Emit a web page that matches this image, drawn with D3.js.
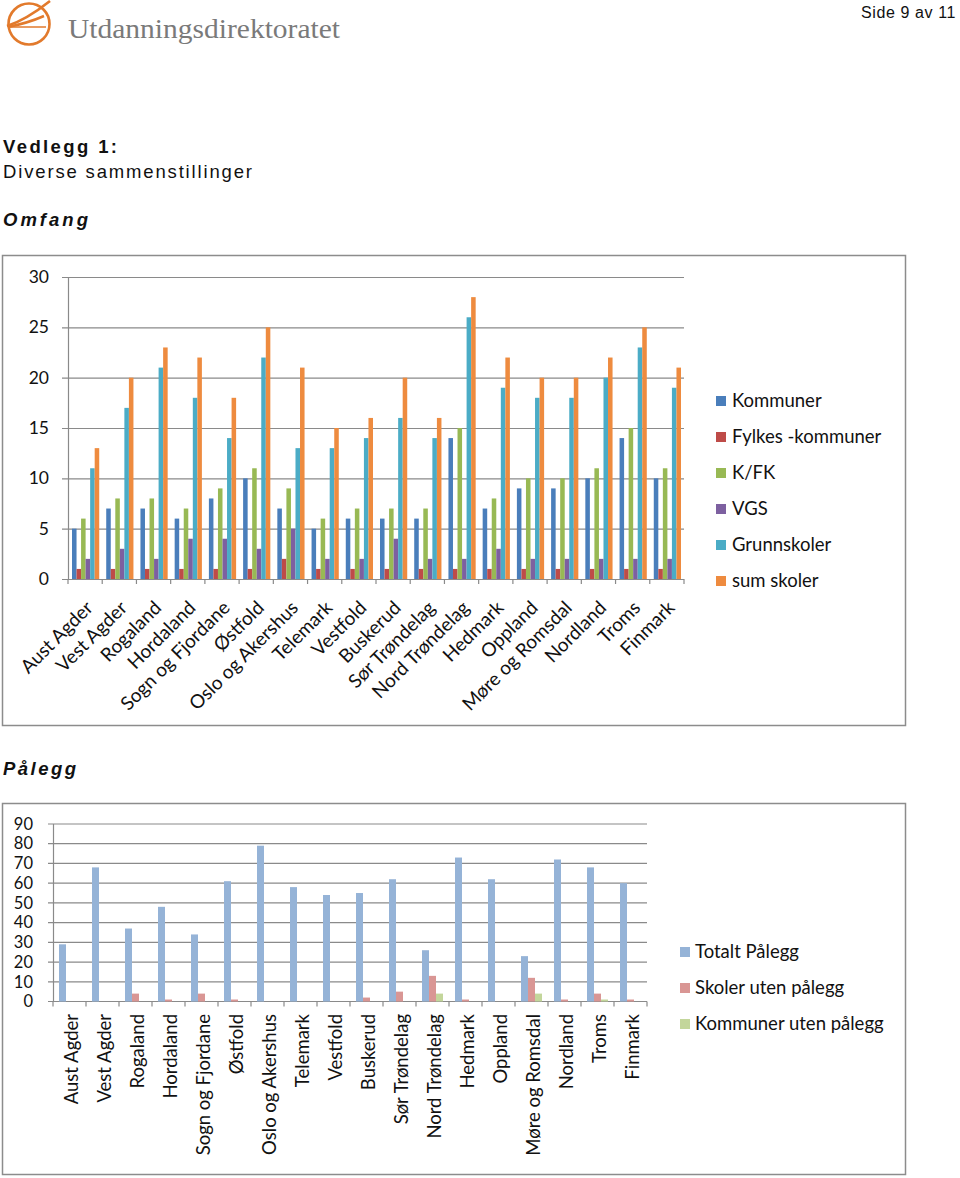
<!DOCTYPE html>
<html><head><meta charset="utf-8">
<script src="https://cdnjs.cloudflare.com/ajax/libs/d3/7.8.5/d3.min.js"></script>
<style>body{margin:0;background:#fff}svg{display:block}</style>
</head><body><svg id="c" width="960" height="1178"></svg>
<script>
// ---------- data ----------
const categories = ["Aust Agder","Vest Agder","Rogaland","Hordaland","Sogn og Fjordane","Østfold","Oslo og Akershus","Telemark","Vestfold","Buskerud","Sør Trøndelag","Nord Trøndelag","Hedmark","Oppland","Møre og Romsdal","Nordland","Troms","Finmark"];
const seriesTop = ["Kommuner","Fylkes -kommuner","K/FK","VGS","Grunnskoler","sum skoler"];
const kommuner      = [5,7,7,6,8,10,7,5,6,6,6,14,7,9,9,10,14,10];
const fylkeskommuner= [1,1,1,1,1,1,2,1,1,1,1,1,1,1,1,1,1,1];
const kfk           = [6,8,8,7,9,11,9,6,7,7,7,15,8,10,10,11,15,11];
const vgs           = [2,3,2,4,4,3,5,2,2,4,2,2,3,2,2,2,2,2];
const grunnskoler   = [11,17,21,18,14,22,13,13,14,16,14,26,19,18,18,20,23,19];
const sumSkoler     = [13,20,23,22,18,25,21,15,16,20,16,28,22,20,20,22,25,21];
const topTicks = [0,5,10,15,20,25,30];

const seriesBottom = ["Totalt Pålegg","Skoler uten pålegg","Kommuner uten pålegg"];
const totaltPalegg       = [29,68,37,48,34,61,79,58,54,55,62,26,73,62,23,72,68,60];
const skolerUtenPalegg   = [0,0,4,1,4,1,0,0,0,2,5,13,1,0,12,1,4,1];
const kommunerUtenPalegg = [0,0,0,0,0,0,0,0,0,0,0,4,0,0,4,0,1,0];
const bottomTicks = [0,10,20,30,40,50,60,70,80,90];

const topColors = ["#4A7EBB","#BE4B48","#98B954","#7D60A0","#4BACC6","#EE8B3F"];
const bottomColors = ["#95B3D7","#D99694","#C3D69B"];

const svg = d3.select("#c");
const LATO = "Lato, 'Open Sans', sans-serif";
const ARIAL = "'Liberation Sans', Arial, sans-serif";
const grid = "#8a8a8a";

// ---------- header ----------
const logo = svg.append("g").attr("fill","none").attr("stroke","#E27A2C").attr("stroke-width",2.6);
logo.append("circle").attr("cx",29).attr("cy",24).attr("r",20.5);
logo.append("path").attr("d","M7,26 Q26,20 50,1");
logo.append("path").attr("d","M8,27 Q28,23 44,16");
logo.append("path").attr("d","M8,27 L46,27").attr("stroke-width",1.6);
svg.append("text").attr("x",68).attr("y",38).attr("font-family","'Liberation Serif','DejaVu Serif',serif")
  .attr("font-size",27).attr("fill","#7a7a7a").attr("textLength",272).attr("lengthAdjust","spacingAndGlyphs")
  .text("Utdanningsdirektoratet");
svg.append("text").attr("x",956).attr("y",18).attr("text-anchor","end").attr("font-family",ARIAL)
  .attr("font-size",16).attr("letter-spacing",0.6).attr("fill","#111").text("Side 9 av 11");

svg.append("text").attr("x",3).attr("y",153).attr("font-family",ARIAL).attr("font-weight","bold")
  .attr("font-size",18.5).attr("fill","#111").attr("textLength",114).attr("lengthAdjust","spacing").text("Vedlegg 1:");
svg.append("text").attr("x",3).attr("y",178).attr("font-family",ARIAL)
  .attr("font-size",18.5).attr("fill","#111").attr("textLength",249).attr("lengthAdjust","spacing").text("Diverse sammenstillinger");
svg.append("text").attr("x",3).attr("y",226).attr("font-family",ARIAL).attr("font-weight","bold").attr("font-style","italic")
  .attr("font-size",18.5).attr("fill","#111").attr("textLength",85).attr("lengthAdjust","spacing").text("Omfang");
svg.append("text").attr("x",3).attr("y",775).attr("font-family",ARIAL).attr("font-weight","bold").attr("font-style","italic")
  .attr("font-size",18.5).attr("fill","#111").attr("textLength",73).attr("lengthAdjust","spacing").text("Pålegg");

// ---------- top chart ----------
svg.append("rect").attr("x",2.5).attr("y",255.5).attr("width",903).attr("height",470)
  .attr("fill","none").attr("stroke","#8c8c8c").attr("stroke-width",1.5);

const topData = [kommuner,fylkeskommuner,kfk,vgs,grunnskoler,sumSkoler];
const tx = d3.scaleBand().domain(categories).range([68,684]).padding(0);
const tx1 = d3.scaleBand().domain(seriesTop).range([4,tx.bandwidth()-3]).padding(0);
const ty = d3.scaleLinear().domain([0,30]).range([579,277]);

const gTop = svg.append("g");
gTop.selectAll("line.g").data(topTicks).join("line")
  .attr("x1",62).attr("x2",684).attr("y1",d=>ty(d)+0.5).attr("y2",d=>ty(d)+0.5)
  .attr("stroke",grid).attr("stroke-width",1.2);
gTop.append("line").attr("x1",68.5).attr("x2",68.5).attr("y1",ty(30)).attr("y2",ty(0)).attr("stroke",grid).attr("stroke-width",1.2);
gTop.selectAll("line.t").data(d3.range(categories.length+1)).join("line")
  .attr("x1",i=>68+i*tx.step()).attr("x2",i=>68+i*tx.step()).attr("y1",ty(0)).attr("y2",ty(0)+5)
  .attr("stroke",grid).attr("stroke-width",1.2);
gTop.selectAll("text.y").data(topTicks).join("text")
  .attr("x",49).attr("y",d=>ty(d)).attr("dy","0.35em").attr("text-anchor","end")
  .attr("font-family",LATO).attr("font-size",17.5).attr("fill","#111").text(d=>d);
seriesTop.forEach((s,si)=>{
  gTop.selectAll(null).data(topData[si]).join("rect")
    .attr("x",(d,i)=>tx(categories[i])+tx1(s)).attr("width",tx1.bandwidth())
    .attr("y",d=>ty(d)).attr("height",d=>ty(0)-ty(d)).attr("fill",topColors[si]);
});
gTop.selectAll("text.x").data(categories).join("text")
  .attr("transform",d=>`translate(${tx(d)+tx.bandwidth()/2+9},${609}) rotate(-45)`)
  .attr("text-anchor","end").attr("font-family",LATO).attr("font-size",19).attr("fill","#111").text(d=>d);
seriesTop.forEach((s,i)=>{
  const y = 401 + i*36;
  svg.append("rect").attr("x",716).attr("y",y-5).attr("width",10).attr("height",10).attr("fill",topColors[i]);
  svg.append("text").attr("x",732).attr("y",y).attr("dy","0.35em").attr("font-family",LATO)
    .attr("font-size",18.5).attr("fill","#111").text(s);
});

// ---------- bottom chart ----------
svg.append("rect").attr("x",2.5).attr("y",803.5).attr("width",903).attr("height",371)
  .attr("fill","none").attr("stroke","#8c8c8c").attr("stroke-width",1.5);
const botData = [totaltPalegg,skolerUtenPalegg,kommunerUtenPalegg];
const bx = d3.scaleBand().domain(categories).range([53,647]).padding(0);
const bx1 = d3.scaleBand().domain(seriesBottom).range([6,bx.bandwidth()-6]).padding(0);
const by = d3.scaleLinear().domain([0,90]).range([1001.5,824]);
const gB = svg.append("g");
gB.selectAll("line.g").data(bottomTicks).join("line")
  .attr("x1",48).attr("x2",647).attr("y1",d=>by(d)).attr("y2",d=>by(d))
  .attr("stroke",grid).attr("stroke-width",1.2);
gB.append("line").attr("x1",53.5).attr("x2",53.5).attr("y1",by(90)).attr("y2",by(0)).attr("stroke",grid).attr("stroke-width",1.2);
gB.selectAll("line.t").data(d3.range(categories.length+1)).join("line")
  .attr("x1",i=>53+i*bx.step()).attr("x2",i=>53+i*bx.step()).attr("y1",by(0)).attr("y2",by(0)+5)
  .attr("stroke",grid).attr("stroke-width",1.2);
gB.selectAll("text.y").data(bottomTicks).join("text")
  .attr("x",33).attr("y",d=>by(d)).attr("dy","0.35em").attr("text-anchor","end")
  .attr("font-family",LATO).attr("font-size",16.5).attr("fill","#111").text(d=>d);
seriesBottom.forEach((s,si)=>{
  gB.selectAll(null).data(botData[si]).join("rect")
    .attr("x",(d,i)=>bx(categories[i])+bx1(s)).attr("width",bx1.bandwidth())
    .attr("y",d=>by(d)).attr("height",d=>by(0)-by(d)).attr("fill",bottomColors[si]);
});
gB.selectAll("text.x").data(categories).join("text")
  .attr("transform",d=>`translate(${bx(d)+bx.bandwidth()/2+2},${1014}) rotate(-90)`)
  .attr("text-anchor","end").attr("dy","0.35em").attr("font-family",LATO).attr("font-size",18.5).attr("fill","#111").text(d=>d);
seriesBottom.forEach((s,i)=>{
  const y = 952 + i*36;
  svg.append("rect").attr("x",680).attr("y",y-5).attr("width",10).attr("height",10).attr("fill",bottomColors[i]);
  svg.append("text").attr("x",695).attr("y",y).attr("dy","0.35em").attr("font-family",LATO)
    .attr("font-size",18.5).attr("fill","#111").text(s);
});
</script></body></html>
